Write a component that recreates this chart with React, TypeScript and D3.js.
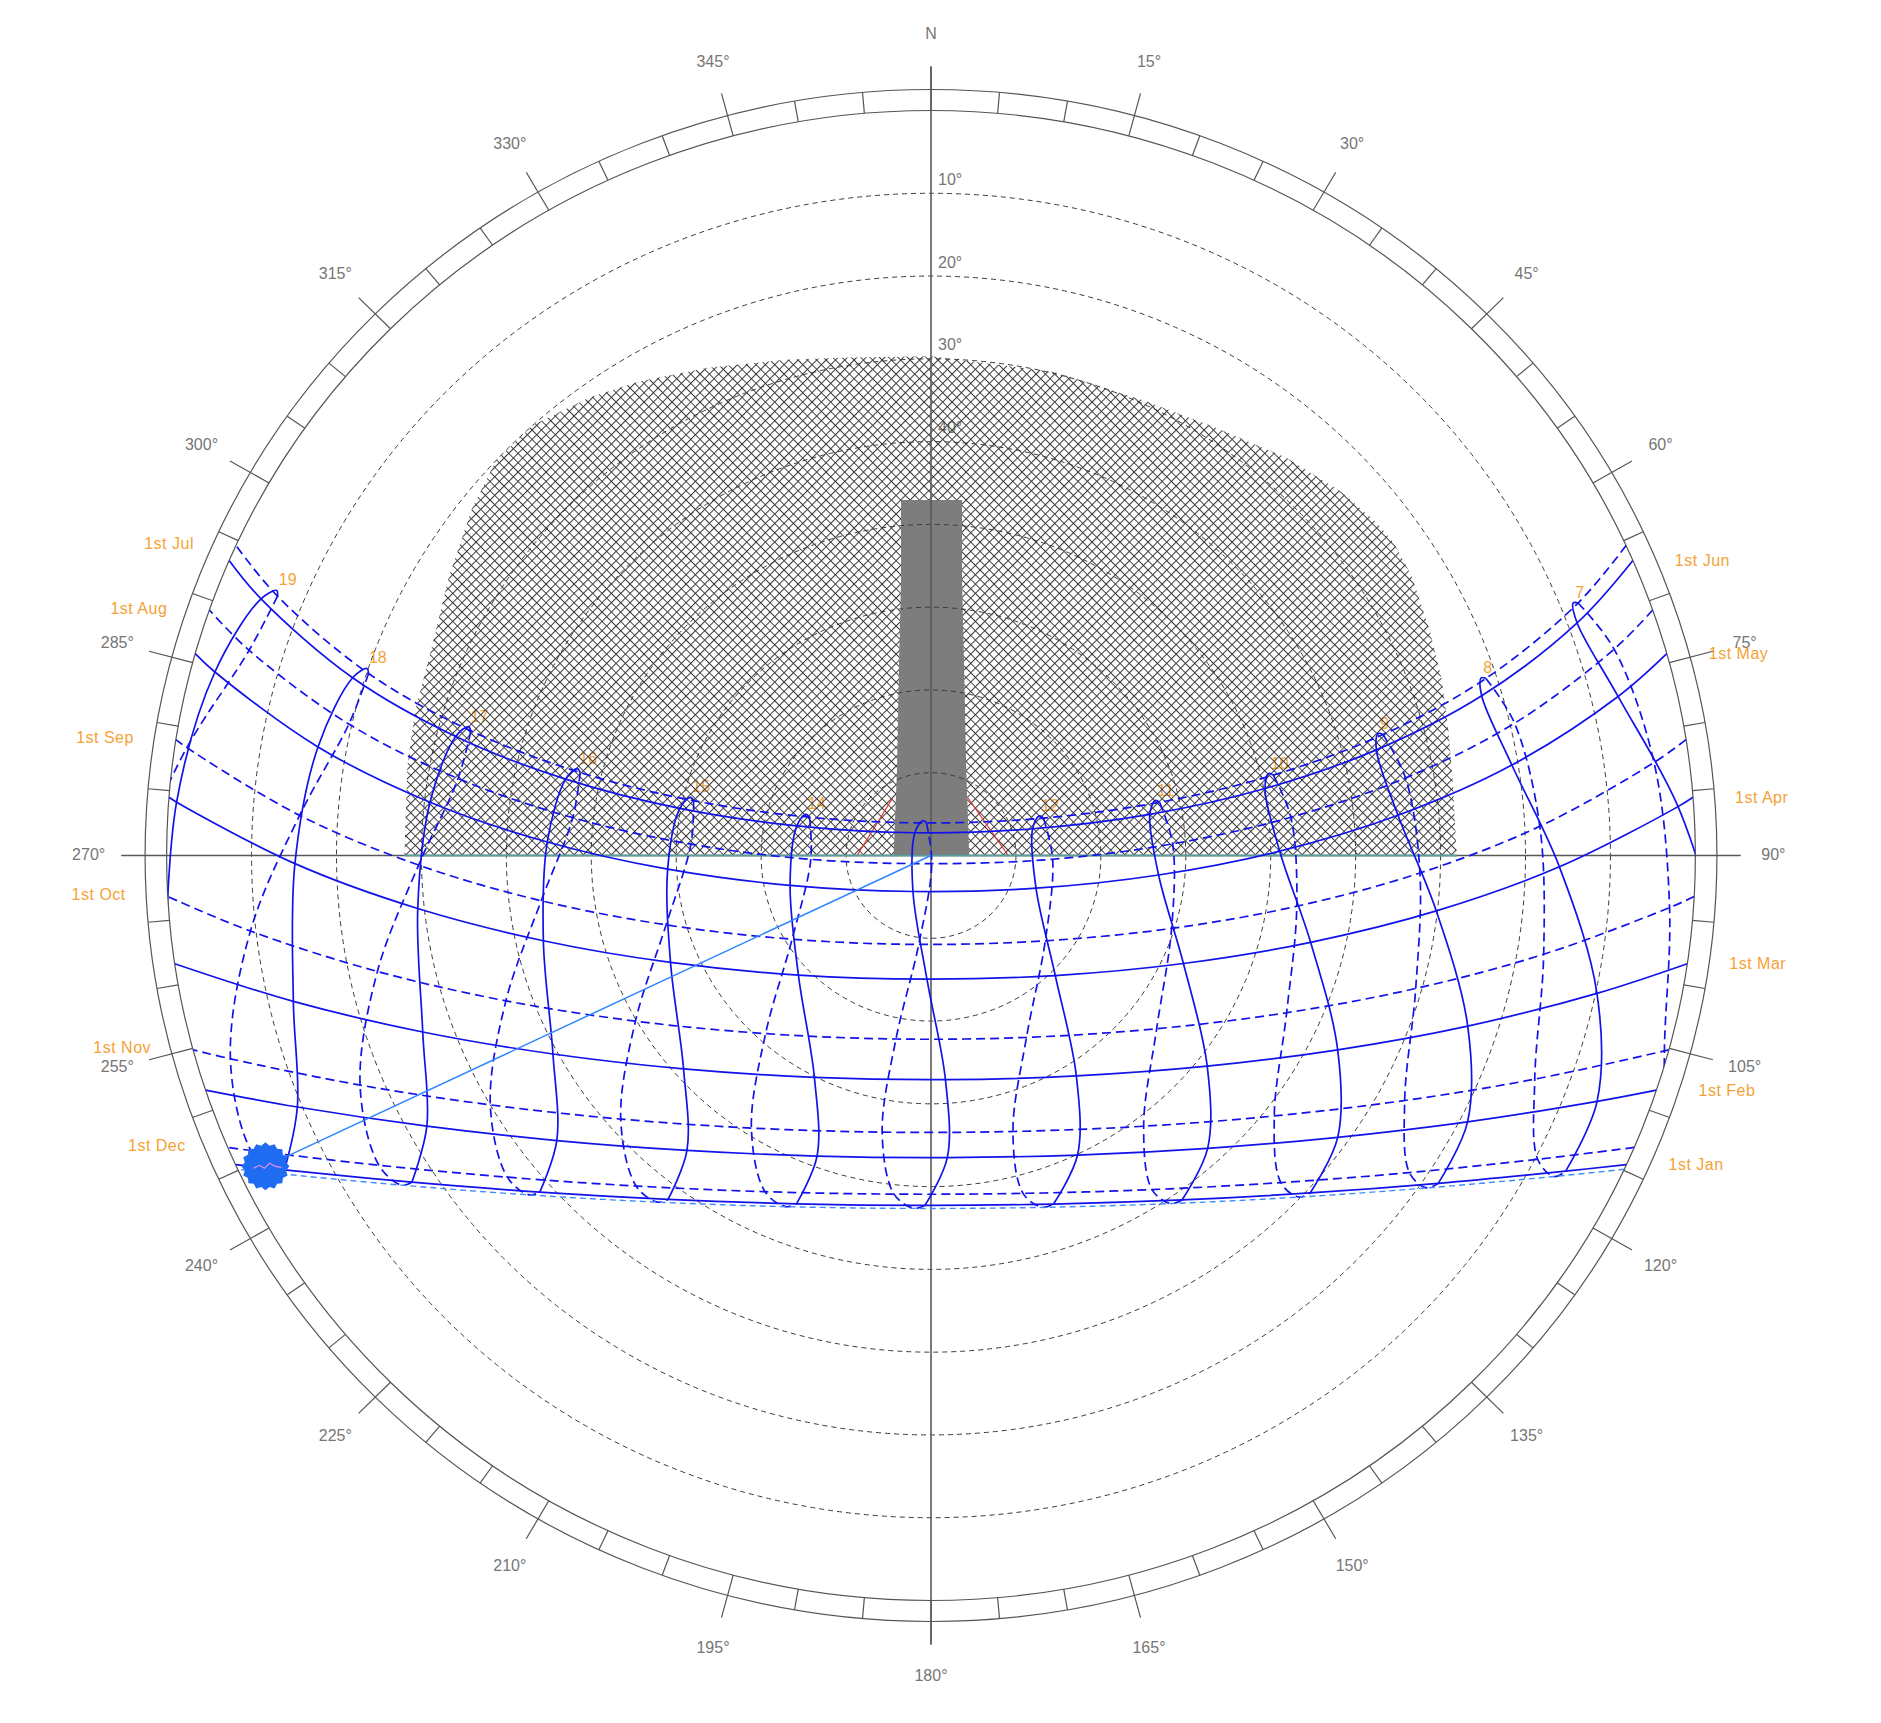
import React from "react";
import * as d3 from "d3";

// ---------- layout ----------
const WIDTH = 1881;
const HEIGHT = 1723;
const CX = 931;
const CY = 855.5;
const R = 745; // horizon radius (vertical units)
const SX = 1.026; // horizontal stretch of the original picture
const RING_W = 21;
const TICK_OUT = 44;
const LABEL_R = 821;

// ---------- data (azimuth°, altitude°) ----------
const HOURS = [7, 8, 9, 10, 11, 12, 13, 14, 15, 16, 17, 18, 19];

type P = [number, number] | null;

const JAN_1: P[] = [null, [117.03, 6.1], [123.55, 18.34], [132.4, 29.54], [144.61, 38.96], [161.09, 45.49], [180.96, 47.73], [200.63, 45.04], [216.69, 38.19], [228.56, 28.55], [237.15, 17.24], [243.48, 4.92], null];
const FEB_1: P[] = [null, [110.74, 6.14], [116.99, 19.1], [125.41, 31.24], [137.36, 41.91], [154.51, 49.91], [176.99, 53.46], [200.28, 51.29], [218.89, 44.23], [231.99, 34.08], [241.15, 22.23], [247.84, 9.44], null];
const MAR_1: P[] = [[96.92, -4.13], [101.99, 9.84], [108.06, 23.53], [116.12, 36.67], [128.05, 48.7], [147.27, 58.35], [176.41, 62.87], [207.13, 59.89], [228.5, 51.1], [241.69, 39.44], [250.39, 26.47], [256.79, 12.88], [262.02, -1.04]];
const APR_1: P[] = [[86.16, 1.84], [91.06, 16.0], [96.42, 30.13], [103.21, 44.09], [113.7, 57.54], [134.74, 69.4], [181.83, 75.05], [227.19, 68.72], [247.16, 56.72], [257.29, 43.21], [263.95, 29.23], [269.25, 15.1], [274.15, 0.94]];
const MAY_1: P[] = [[76.64, 6.85], [80.92, 20.74], [84.95, 34.8], [89.27, 48.94], [95.02, 63.1], [107.71, 77.02], [206.02, 85.16], [257.75, 73.02], [266.96, 58.95], [272.07, 44.79], [276.23, 30.66], [280.3, 16.64], [284.73, 2.82]];
const JUN_1: P[] = [[69.73, 8.9], [73.43, 22.35], [76.32, 36.03], [78.37, 49.85], [79.08, 63.76], [74.89, 77.61], [325.29, 86.66], [282.77, 73.8], [280.9, 59.89], [282.1, 46.01], [284.41, 32.22], [287.5, 18.6], [291.46, 5.24]];
const JUN_21: P[] = [[68.03, 8.46], [71.67, 21.76], [74.37, 35.32], [76.03, 49.02], [75.89, 62.78], [69.44, 76.38], [346.9, 85.69], [288.64, 74.45], [283.9, 60.81], [284.13, 47.05], [285.96, 33.36], [288.79, 19.84], [292.57, 6.58]];
const JUL_1: P[] = [[68.18, 7.93], [71.87, 21.25], [74.65, 34.82], [76.45, 48.54], [76.58, 62.33], [71.14, 76.01], [352.35, 86.03], [287.92, 74.97], [283.33, 61.27], [283.65, 47.49], [285.53, 33.77], [288.37, 20.22], [292.15, 6.92]];
const AUG_1: P[] = [[72.78, 5.79], [76.91, 19.46], [80.48, 33.35], [83.78, 47.38], [87.17, 61.51], [91.8, 75.67], [174.89, 89.01], [268.11, 75.84], [272.78, 61.7], [276.18, 47.57], [279.48, 33.54], [283.04, 19.64], [287.16, 5.97]];
const SEP_1: P[] = [[82.48, 4.13], [87.18, 18.23], [92.1, 32.39], [98.1, 46.5], [107.27, 60.33], [127.44, 73.05], [187.65, 79.16], [238.27, 70.77], [254.96, 57.7], [263.21, 43.78], [268.9, 29.66], [273.73, 15.5], [278.46, 1.42]];
const OCT_1: P[] = [[94.14, 2.81], [99.39, 16.88], [105.72, 30.71], [114.4, 44.02], [128.22, 56.18], [152.9, 65.32], [190.54, 67.45], [222.15, 60.98], [240.1, 49.86], [250.67, 36.96], [257.87, 23.33], [263.5, 9.35], [268.5, -4.78]];
const NOV_1: P[] = [[105.29, 0.48], [110.81, 13.95], [117.95, 26.86], [127.9, 38.78], [142.56, 48.81], [163.86, 55.29], [189.76, 56.09], [212.71, 50.87], [228.92, 41.54], [239.86, 30.0], [247.58, 17.28], [253.42, 3.93], null];
const DEC_1: P[] = [[111.9, -3.21], [117.19, 9.69], [124.22, 21.88], [133.81, 32.92], [147.19, 41.98], [165.13, 47.77], [186.08, 48.86], [205.7, 44.93], [221.01, 37.09], [232.08, 26.77], [240.07, 15.0], [246.01, 2.36], null];
const DEC_21: P[] = [null, [117.86, 7.02], [124.53, 19.15], [133.61, 30.17], [146.12, 39.35], [162.84, 45.51], [182.67, 47.32], [201.96, 44.26], [217.57, 37.17], [229.07, 27.41], [237.42, 16.04], [243.6, 3.69], null];

// month (1st-of-month) day paths, in calendar order
const MONTH_LABELS = ["1st Jan", "1st Feb", "1st Mar", "1st Apr", "1st May", "1st Jun", "1st Jul", "1st Aug", "1st Sep", "1st Oct", "1st Nov", "1st Dec"];
const MONTH_POINTS = [JAN_1, FEB_1, MAR_1, APR_1, MAY_1, JUN_1, JUL_1, AUG_1, SEP_1, OCT_1, NOV_1, DEC_1];
const SUNRISE_AZ = [114.51, 108.35, 98.35, 85.52, 74.28, 66.67, 65.41, 70.76, 81.05, 93.16, 105.12, 113.07];
const SUNSET_AZ = [245.49, 251.65, 261.65, 274.48, 285.72, 293.33, 294.59, 289.24, 278.95, 266.84, 254.88, 246.93];

// hour analemma branches (first half of year solid, second half dashed)
const SOLID_BRANCH = [JAN_1, FEB_1, MAR_1, APR_1, MAY_1, JUN_1, JUN_21, JUL_1];
const DASHED_BRANCH = [JUL_1, AUG_1, SEP_1, OCT_1, NOV_1, DEC_1, DEC_21, JAN_1];

// current day path and sun position
const TODAY_POINTS = DEC_21;
const TODAY_RISE_SET = [114.91, 245.09];
const SUN_NOW: [number, number] = [244.4, 3.1];

// shading mask outline (azimuth°, altitude°), from west round north to east
const MASK_OUTLINE: [number, number][] = [
  [270, 28.0], [280, 27.4], [286, 26.8], [293.5, 26.0], [300.7, 24.0], [307.8, 21.6], [313, 20.0], [318, 20.0],
  [324, 21.6], [329, 23.2], [336, 25.5], [344, 27.7], [351, 29.1], [0, 29.7], [14, 29.8], [24.5, 29.6],
  [33, 28.4], [41, 26.3], [47.7, 24.7], [52.5, 23.9], [55.3, 23.7], [59.2, 24.1], [65.2, 25.3], [70.4, 26.2],
  [75.9, 27.2], [81.5, 27.9], [90, 28.1],
];

// overhead obstruction (dark grey)
const OBSTRUCTION: [number, number][] = [
  [355.3, 46.9], [4.86, 46.9], [6.26, 56.5], [9.7, 66.9], [21.1, 78.5], [90, 85.5],
  [270, 85.6], [339.5, 78.6], [350.6, 66.9], [353.95, 56.5],
];

// hidden object edges (red)
const RED_EDGES: [number, number][][] = [
  [[270, 81.3], [327.2, 81.7]],
  [[32.1, 81.8], [90, 80.9]],
];

const ALT_RINGS = [10, 20, 30, 40, 50, 60, 70, 80];
const AZ_TICKS = d3.range(0, 360, 5);
const AZ_LABELS = d3.range(0, 360, 15);

// ---------- scales / helpers ----------
const rScale = d3.scaleLinear().domain([90, 0]).range([0, R]);

function polar(az: number, r: number): [number, number] {
  const a = (az * Math.PI) / 180;
  return [CX + SX * r * Math.sin(a), CY - r * Math.cos(a)];
}
function proj(p: [number, number]): [number, number] {
  return polar(p[0], rScale(p[1]));
}

const smooth = d3.line<[number, number]>().curve(d3.curveCatmullRom.alpha(0.5));
const straight = d3.line<[number, number]>();

const BLUE = "#1212ea";
const ORANGE = "#f4a236";
const GREY_TXT = "#767676";
const FONT = "'Liberation Sans', Arial, sans-serif";

function dayPath(pts: P[], rise: number, set: number): string {
  const list: [number, number][] = [[rise, 0]];
  pts.forEach((p) => {
    if (p && p[1] > 0) list.push(p);
  });
  list.push([set, 0]);
  return smooth(list.map(proj)) || "";
}

function branchPath(branch: P[][], k: number): string {
  const list: [number, number][] = [];
  branch.forEach((d) => {
    const p = d[k];
    if (p) list.push(p);
  });
  return smooth(list.map(proj)) || "";
}

function cogPoints(cx: number, cy: number): string {
  const pts: string[] = [];
  const n = 32;
  for (let i = 0; i < n; i++) {
    const rr = i % 2 === 0 ? 24 : 21;
    const a = (i / n) * Math.PI * 2;
    pts.push(`${cx + rr * Math.cos(a)},${cy + rr * Math.sin(a)}`);
  }
  return pts.join(" ");
}

export default function App() {
  const sun = proj(SUN_NOW);
  const maskPts = MASK_OUTLINE.map(proj);
  const obsPts = OBSTRUCTION.map(proj);
  const hatchLeft = proj(MASK_OUTLINE[0]);
  const hatchRight = proj(MASK_OUTLINE[MASK_OUTLINE.length - 1]);

  return (
    <svg
      width={WIDTH}
      height={HEIGHT}
      style={{ position: "absolute", left: 0, top: 0, background: "#fff" }}
      fontFamily={FONT}
    >
      <defs>
        <pattern id="hatch" width="6.6" height="6.6" patternUnits="userSpaceOnUse" patternTransform="rotate(45)">
          <path d="M0,0.5H6.6M0.5,0V6.6" stroke="#3a3a3a" strokeWidth="1.05" fill="none" />
        </pattern>
        <clipPath id="sky">
          <ellipse cx={CX} cy={CY} rx={R * SX} ry={R} />
        </clipPath>
      </defs>
      <rect width={WIDTH} height={HEIGHT} fill="#fff" />

      {/* altitude labels */}
      {ALT_RINGS.map((a) => (
        <text key={"al" + a} x={CX + 7} y={CY - rScale(a) - 8.5} fontSize={16} fill={GREY_TXT}>
          {a}°
        </text>
      ))}

      {/* hour labels */}
      {HOURS.map((h, k) => {
        const p = JUN_21[k];
        if (!p) return null;
        const [x, y] = proj(p);
        return (
          <text key={"hl" + h} x={x + 2} y={y - 5} fontSize={16} fill={ORANGE}>
            {h}
          </text>
        );
      })}

      {/* shading mask */}
      <path d={(straight(maskPts) || "") + "Z"} fill="url(#hatch)" stroke="none" />

      {/* obstruction */}
      <path d={(straight(obsPts) || "") + "Z"} fill="#7d7d7d" stroke="none" />

      {/* red edges */}
      {RED_EDGES.map((e, i) => (
        <path key={"re" + i} d={straight(e.map(proj)) || ""} stroke="#e23b2e" strokeWidth={1.3} fill="none" />
      ))}

      {/* altitude circles */}
      {ALT_RINGS.map((a) => (
        <ellipse
          key={"ar" + a}
          cx={CX}
          cy={CY}
          rx={rScale(a) * SX}
          ry={rScale(a)}
          fill="none"
          stroke="#3a3a3a"
          strokeWidth={1}
          strokeDasharray="5,4"
        />
      ))}

      {/* ring */}
      <ellipse cx={CX} cy={CY} rx={R * SX} ry={R} fill="none" stroke="#555" strokeWidth={1.2} />
      <ellipse cx={CX} cy={CY} rx={(R + RING_W) * SX} ry={R + RING_W} fill="none" stroke="#555" strokeWidth={1.2} />
      {AZ_TICKS.map((a) => {
        const outer = a % 15 === 0 ? R + TICK_OUT : R + RING_W;
        const p1 = polar(a, R);
        const p2 = polar(a, outer);
        return <line key={"tk" + a} x1={p1[0]} y1={p1[1]} x2={p2[0]} y2={p2[1]} stroke="#555" strokeWidth={1.2} />;
      })}

      {/* axes */}
      <line x1={CX - (R + TICK_OUT) * SX} y1={CY} x2={CX + (R + TICK_OUT) * SX} y2={CY} stroke="#585858" strokeWidth={1.6} />
      <line x1={CX} y1={CY - (R + TICK_OUT)} x2={CX} y2={CY + (R + TICK_OUT)} stroke="#585858" strokeWidth={1.6} />
      <line x1={hatchLeft[0]} y1={CY} x2={hatchRight[0]} y2={CY} stroke="#5f9d9b" strokeWidth={1.8} />

      {/* azimuth labels */}
      {AZ_LABELS.map((a) => {
        const [x, y] = polar(a, LABEL_R);
        return (
          <text key={"az" + a} x={x} y={y - 1} fontSize={16} fill={GREY_TXT} textAnchor="middle" dominantBaseline="central">
            {a === 0 ? "N" : `${a}°`}
          </text>
        );
      })}

      {/* sun paths */}
      <g clipPath="url(#sky)" fill="none">
        {MONTH_POINTS.map((pts, i) => (
          <path
            key={"mp" + i}
            d={dayPath(pts, SUNRISE_AZ[i], SUNSET_AZ[i])}
            stroke={BLUE}
            strokeWidth={1.7}
            strokeDasharray={i < 6 ? undefined : "9,5"}
          />
        ))}
        {HOURS.map((h, k) => (
          <g key={"hr" + h}>
            <path d={branchPath(SOLID_BRANCH, k)} stroke={BLUE} strokeWidth={1.7} />
            <path d={branchPath(DASHED_BRANCH, k)} stroke={BLUE} strokeWidth={1.7} strokeDasharray="9,5" />
          </g>
        ))}
        <path
          d={dayPath(TODAY_POINTS, TODAY_RISE_SET[0], TODAY_RISE_SET[1])}
          stroke="#3d8bff"
          strokeWidth={1.4}
          strokeDasharray="6,4"
        />
      </g>

      {/* current sun */}
      <line x1={CX} y1={CY} x2={sun[0]} y2={sun[1]} stroke="#2f86ff" strokeWidth={1.5} />
      <polygon points={cogPoints(sun[0], sun[1])} fill="#1f6cf2" />
      <path
        d={`M${sun[0] - 12},${sun[1] + 2} l6,-3 l5,3 l5,-5 l6,3 l6,1`}
        stroke="#e48cf0"
        strokeWidth={1.2}
        fill="none"
      />

      {/* month labels */}
      {MONTH_LABELS.map((lab, i) => {
        const solid = i < 6;
        const p = solid ? polar(SUNRISE_AZ[i], R) : polar(SUNSET_AZ[i], R);
        return (
          <text
            key={"ml" + i}
            x={solid ? p[0] + 42 : p[0] - 42}
            y={solid ? p[1] : p[1] - 2}
            fontSize={16}
            fill={ORANGE}
            textAnchor={solid ? "start" : "end"}
            dominantBaseline="central"
            letterSpacing={0.5}
          >
            {lab}
          </text>
        );
      })}
    </svg>
  );
}
